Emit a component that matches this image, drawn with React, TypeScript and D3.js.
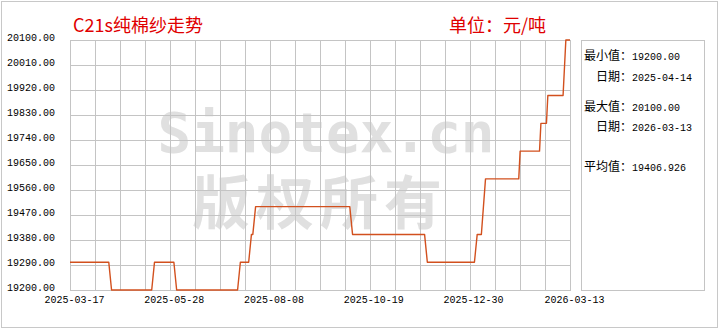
import React from "react";
import * as d3 from "d3";

// ---- data ----
const lineDates: string[] = [
  "2025-03-17", "2025-04-14", "2025-04-16", "2025-05-15", "2025-05-17",
  "2025-05-31", "2025-06-02", "2025-07-16", "2025-07-18", "2025-07-24",
  "2025-07-26", "2025-07-27", "2025-07-29", "2025-10-05", "2025-10-07",
  "2025-11-28", "2025-11-30", "2026-01-03", "2026-01-05", "2026-01-08",
  "2026-01-11", "2026-02-04", "2026-02-05", "2026-02-19", "2026-02-20",
  "2026-02-24", "2026-02-25", "2026-03-08", "2026-03-10", "2026-03-13",
];
const lineValues: number[] = [
  19300, 19300, 19200, 19200, 19300,
  19300, 19200, 19200, 19300, 19300,
  19400, 19400, 19500, 19500, 19400,
  19400, 19300, 19300, 19400, 19400,
  19600, 19600, 19700, 19700, 19800,
  19800, 19900, 19900, 20100, 20100,
];
const yTicks: number[] = [19200, 19290, 19380, 19470, 19560, 19650, 19740, 19830, 19920, 20010, 20100];
const xTickLabels: string[] = ["2025-03-17", "2025-05-28", "2025-08-08", "2025-10-19", "2025-12-30", "2026-03-13"];
const titleText = "C21s纯棉纱走势";
const unitText = "单位：元/吨";
const statLabels: string[] = ["最小值：", "日期：", "最大值：", "日期：", "平均值："];
const statValues: string[] = ["19200.00", "2025-04-14", "20100.00", "2026-03-13", "19406.926"];
const gridColumns = 20;

const W = 720, H = 330;
const L = 70, R = 570, T = 40, B = 290;
const MONO = "'Liberation Mono', 'DejaVu Sans Mono', monospace";
const CJK = "'Noto Sans CJK SC', 'Noto Sans', sans-serif";

export default function App() {
  const parse = d3.utcParse("%Y-%m-%d");
  const x = d3.scaleUtc()
    .domain([parse(lineDates[0])!, parse(lineDates[lineDates.length - 1])!])
    .range([L, R]);
  const y = d3.scaleLinear().domain([yTicks[0], yTicks[yTicks.length - 1]]).range([B, T]);
  const gx = d3.scaleLinear().domain([0, gridColumns]).range([L, R]);

  const pts = lineDates.map((d, i) => [x(parse(d)!), y(lineValues[i])] as [number, number]);
  const path = d3.line()(pts) || "";

  const statX = [584, 596, 584, 596, 584];
  const statNumX = [632, 632, 632, 632, 632];
  const statY = [60, 81, 111, 131, 171];

  return (
    <div style={{ position: "absolute", left: 0, top: 0 }}>
      <svg width={W} height={H} style={{ display: "block", background: "#fff" }}>
        <rect x={1.5} y={1.5} width={716} height={326} fill="#fff" stroke="#c8c8c8" />
        {/* watermark */}
        <text x={326} y={152} textAnchor="middle" fontFamily="'DejaVu Sans Mono', monospace" fontWeight="bold"
          fontSize={56} fill="#e0e0e0">Sinotex.cn</text>
        <text x={320} y={224} textAnchor="middle" fontFamily={CJK} fontWeight={700} fontSize={58} letterSpacing={6}
          fill="#e0e0e0">版权所有</text>
        {/* grid */}
        {d3.range(gridColumns + 1).map((i) => (
          <line key={"v" + i} x1={Math.round(gx(i)) + 0.5} x2={Math.round(gx(i)) + 0.5} y1={T} y2={B + 0.5}
            stroke="#c4c4c4" />
        ))}
        {yTicks.map((t) => (
          <line key={"h" + t} x1={L} x2={R + 1} y1={Math.round(y(t)) + 0.5} y2={Math.round(y(t)) + 0.5}
            stroke="#c4c4c4" />
        ))}
        {/* y labels */}
        {yTicks.map((t) => (
          <text key={"yl" + t} x={7} y={y(t) + 0.5} fontFamily={MONO} fontSize={10} fill="#000">
            {d3.format(".2f")(t)}
          </text>
        ))}
        {/* x labels */}
        {xTickLabels.map((s) => (
          <text key={s} x={x(parse(s)!) + 4.5} y={303} textAnchor="middle" fontFamily={MONO} fontSize={10}
            fill="#000">{s}</text>
        ))}
        {/* series */}
        <path d={path} fill="none" stroke="#d2501e" strokeWidth={1.4} strokeLinejoin="round" />
        {/* titles */}
        <text x={73} y={32} fontFamily={CJK} fontSize={18} fill="#e00000">{titleText}</text>
        <text x={449} y={32} fontFamily={CJK} fontSize={18} fill="#e00000">{unitText}</text>
        {/* stats panel */}
        <rect x={581.5} y={40.5} width={123} height={250} fill="#fff" stroke="#c4c4c4" />
        {statLabels.map((s, i) => (
          <g key={"st" + i}>
            <text x={statX[i]} y={statY[i]} fontFamily={CJK} fontSize={12} fill="#000">{s}</text>
            <text x={statNumX[i]} y={statY[i]} fontFamily={MONO} fontSize={10} fill="#000">{statValues[i]}</text>
          </g>
        ))}
      </svg>
    </div>
  );
}
